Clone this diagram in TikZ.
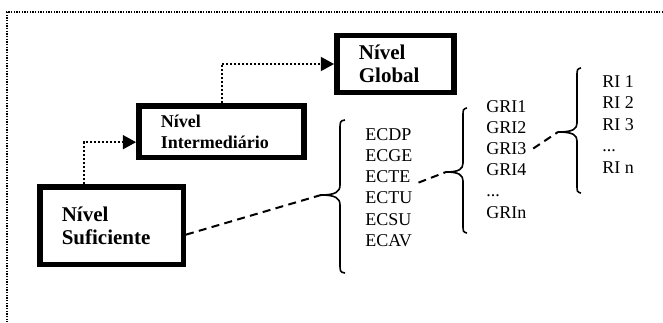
\documentclass[tikz,border=0pt]{standalone}
\usepackage{fontspec}
\setmainfont{Liberation Serif}
\usetikzlibrary{arrows.meta}

\newcommand\pontos{...}

\tikzset{
  nivel/.style={draw, line width=4.1pt, align=left, inner xsep=16.5pt, inner ysep=0pt,
    font=\fontsize{15.75}{17.25}\selectfont\bfseries},
  item/.style={anchor=base west, inner sep=0pt, font=\fontsize{13.5}{16}\selectfont},
  seta/.style={line width=1.5pt, dash pattern=on 1.5pt off 1.5pt,
    -{Triangle[length=10pt,width=10.5pt]}},
  tracejado/.style={line width=1.5pt, dash pattern=on 6pt off 4pt},
  chave/.style={line width=1.2pt},
  moldura/.style={line width=1.1pt, dash pattern=on 1.1pt off 0.9pt}
}

\begin{document}
\begin{tikzpicture}[x=0.75pt, y=-0.75pt]
\useasboundingbox (0,0) rectangle (663,322);
% moldura pontilhada
\draw[moldura] (663,12) -- (7,12) -- (7,322);

% caixas dos niveis
\node[nivel, text width=55pt, minimum height=42.4pt] (glo) at (395.5,64) {Nível\\Global};
\node[nivel, text width=91pt, minimum height=38.6pt,
  font=\fontsize{13.5}{15.75}\selectfont\bfseries] (int) at (221.5,131.5) {Nível\\Intermediário};
\node[nivel, text width=74.6pt, minimum height=58.1pt] (suf) at (111.5,225.5) {Nível\\Suficiente};

% setas
\draw[seta] ([xshift=-21pt]suf.north) |- ([yshift=-8pt]int.west);
\draw[seta] (int.north) |- (glo.west);

% listas
\foreach \t [count=\i] in {ECDP,ECGE,ECTE,ECTU,ECSU,ECAV}
  \node[item] (ec\i) at (365,140+21.3*\i-21.3) {\t};
\foreach \t [count=\i] in {GRI1,GRI2,GRI3,GRI4,\pontos,GRIn}
  \node[item] (gri\i) at (486,112+21.2*\i-21.2) {\t};
\foreach \t [count=\i] in {RI 1,RI 2,RI 3,\pontos,RI n}
  \node[item] (ri\i) at (602,87+21.5*\i-21.5) {\t};

% chaves
\coordinate (tip1) at (321,195);
\coordinate (tip2) at (446,172);
\coordinate (tip3) at (558,132);
\draw[chave] (345,120) .. controls (340,121) .. (340,130) -- (340,185)
  .. controls (340,192) and (335,195) .. (tip1) .. controls (335,195) and (340,198) .. (340,205)
  -- (340,263) .. controls (340,272) .. (345,273);
\draw[chave] (467,108) .. controls (463,109) .. (463,117) -- (463,163)
  .. controls (463,169) and (459,172) .. (tip2) .. controls (459,172) and (463,175) .. (463,181)
  -- (463,224) .. controls (463,232) .. (467,233);
\draw[chave] (581,68) .. controls (577,69) .. (577,77) -- (577,123)
  .. controls (577,129) and (573,132) .. (tip3) .. controls (573,132) and (577,135) .. (577,141)
  -- (577,184) .. controls (577,192) .. (581,193);

% ligacoes tracejadas
\draw[tracejado] (suf.-7.5) -- (tip1);
\draw[tracejado] ([xshift=6pt]ec3.base east) -- (tip2);
\draw[tracejado] ([xshift=5pt]gri3.east) -- (tip3);
\end{tikzpicture}
\end{document}
